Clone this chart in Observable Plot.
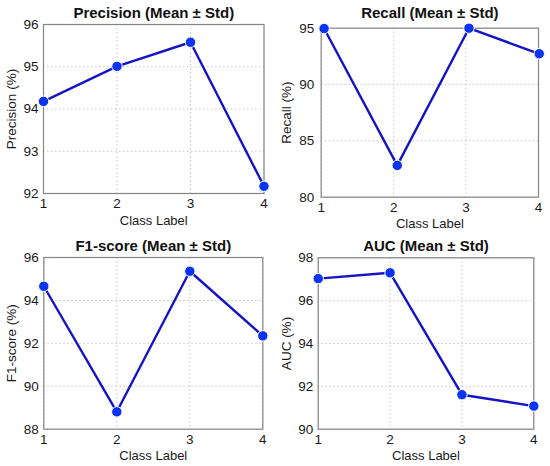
<!DOCTYPE html>
<html>
<head>
<meta charset="utf-8">
<script src="https://cdn.jsdelivr.net/npm/d3@7"></script>
<script src="https://cdn.jsdelivr.net/npm/@observablehq/plot@0.6"></script>
<style>
  html, body { margin: 0; padding: 0; background: white; }
  #wrap { position: relative; width: 550px; height: 466px; background: white; }
  #wrap svg { position: absolute; }
</style>
</head>
<body>
<div id="wrap"></div>
<script>
const classLabels = [1, 2, 3, 4];
const precision = [94.18, 95.01, 95.58, 92.17];
const recall = [94.97, 82.82, 95.0, 92.73];
const recallX = [1.04, 2.05, 3.04, 4.01];
const f1 = [94.66, 88.81, 95.36, 92.35];
const auc = [97.03, 97.30, 91.61, 91.08];

const precisionTicks = [92, 93, 94, 95, 96];
const recallTicks = [80, 85, 90, 95];
const f1Ticks = [88, 90, 92, 94, 96];
const aucTicks = [90, 92, 94, 96, 98];

const panels = [
  {title: "Precision (Mean \u00b1 Std)", ylabel: "Precision (%)", xs: classLabels, ys: precision, ticks: precisionTicks,
   left: 0, top: 0, m: {l: 43, r: 11.5, t: 24, b: 40}, pad: 5},
  {title: "Recall (Mean \u00b1 Std)", ylabel: "Recall (%)", xs: recallX, ys: recall, ticks: recallTicks,
   left: 275, top: 0, m: {l: 45.7, r: 12, t: 27.7, b: 36.3}, pad: 7},
  {title: "F1-score (Mean \u00b1 Std)", ylabel: "F1-score (%)", xs: classLabels, ys: f1, ticks: f1Ticks,
   left: 0, top: 233, m: {l: 43.3, r: 12.7, t: 24, b: 37.3}, pad: 5},
  {title: "AUC (Mean \u00b1 Std)", ylabel: "AUC (%)", xs: classLabels, ys: auc, ticks: aucTicks,
   left: 275, top: 233, m: {l: 42.7, r: 16.7, t: 24.3, b: 37.3}, pad: 5}
];

const wrap = document.getElementById("wrap");
const font = "'Liberation Sans', Arial, Helvetica, sans-serif";

for (const p of panels) {
  const data = p.xs.map((x, i) => ({x, y: p.ys[i]}));
  const yDomain = [d3.min(p.ticks), d3.max(p.ticks)];
  const chart = Plot.plot({
    width: 275,
    height: 233,
    marginLeft: p.m.l,
    marginRight: p.m.r,
    marginTop: p.m.t,
    marginBottom: p.m.b,
    style: {fontFamily: font, fontSize: "13px", color: "#1a1a1a", background: "white"},
    x: {domain: [1, 4]},
    y: {domain: yDomain},
    marks: [
      Plot.gridX(classLabels, {stroke: "#c4c4c4", strokeOpacity: 1, strokeDasharray: "1.5,2.5"}),
      Plot.gridY(p.ticks, {stroke: "#c4c4c4", strokeOpacity: 1, strokeDasharray: "1.5,2.5"}),
      Plot.frame({stroke: "#858585", strokeWidth: 1.2}),
      Plot.axisX(classLabels, {tickSize: 0, tickPadding: 5, label: null, fontSize: 13.5, fill: "#1a1a1a"}),
      Plot.axisY(p.ticks, {tickSize: 0, tickPadding: p.pad, label: null, fontSize: 13.5, fill: "#1a1a1a"}),
      Plot.line(data, {x: "x", y: "y", stroke: "#1414c4", strokeWidth: 2.4}),
      Plot.dot(data, {x: "x", y: "y", r: 5.2, fill: "#0a33f2", stroke: "white", strokeWidth: 1}),
      Plot.text([p.title], {frameAnchor: "top", dy: 13 - p.m.t, lineAnchor: "middle",
        fontSize: 15, fontWeight: "bold", fill: "#111"}),
      Plot.text(["Class Label"], {frameAnchor: "bottom", dy: 27, lineAnchor: "middle", fontSize: 13, fill: "#1a1a1a"}),
      Plot.text([p.ylabel], {frameAnchor: "left", dx: 11 - p.m.l, rotate: -90, textAnchor: "middle",
        lineAnchor: "middle", fontSize: 13.5, fill: "#1a1a1a"})
    ]
  });
  chart.style.left = p.left + "px";
  chart.style.top = p.top + "px";
  wrap.appendChild(chart);
}
</script>
</body>
</html>
